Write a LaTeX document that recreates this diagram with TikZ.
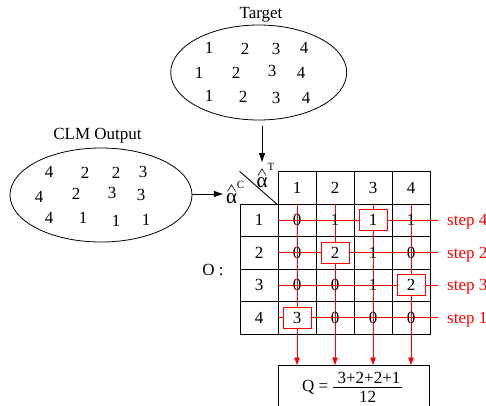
\documentclass[tikz,border=0pt]{standalone}
\usepackage{fontspec}
\setmainfont{Liberation Serif}
\usetikzlibrary{arrows.meta,shapes.geometric}
\begin{document}
\begin{tikzpicture}[x=1pt,y=-1pt,
  font=\fontsize{17}{20}\selectfont,
  txt/.style={inner sep=0pt},
  greek/.style={inner sep=0pt,font=\fontsize{21}{21}\selectfont},
  small/.style={inner sep=0pt,font=\fontsize{11}{13}\selectfont},
  caret/.style={line width=0.6pt,line join=miter},
  oval/.style={draw,ellipse,line width=0.8pt,inner sep=0pt},
  cell/.style={draw,line width=0.9pt,minimum width=38pt,minimum height=32.5pt,inner sep=0pt},
  pick/.style={draw=red,fill=white,line width=0.8pt,minimum width=28pt,minimum height=21pt,inner sep=0pt},
  redline/.style={red,line width=0.8pt},
  redarr/.style={redline,-{Triangle[length=7.5pt,width=5.5pt]}},
  blkarr/.style={line width=0.8pt,-{Triangle[length=9pt,width=6pt]}},
  steplbl/.style={text=red,inner xsep=9pt,inner ysep=0pt,anchor=base west}]
\useasboundingbox (0,0) rectangle (486,405);
\clip (0,0) rectangle (486,405);

% target set
\node[txt,anchor=base] (tgtlbl) at (261,18) {Target};
\node[oval,minimum width=176pt,minimum height=95pt] (T) at (258.7,72.5) {};
\foreach \x/\y/\v in {209/48/1,245/49/2,276/49/3,304/48/4,
                      199/73/1,236/73/2,272/71/3,301/73/4,
                      209/96/1,243/97/2,276/98/3,306/98/4}
  \node[txt] at (\x,\y) {\v};

% classifier output
\node[txt,anchor=base] (clmlbl) at (97.5,139.5) {CLM Output};
\node[oval,minimum width=182pt,minimum height=94pt] (C) at (101,195) {};
\foreach \x/\y/\v in {49/172/4,85/173/2,116/173/2,143/172/3,
                      39/197/4,76/194/2,112/193/3,141/195/3,
                      49/218/4,83/218/1,116/221/1,146/220/1}
  \node[txt] at (\x,\y) {\v};

% axis labels of the matrix: alpha with a hat and a superscript
\node[greek,anchor=base] (aC) at (231.5,203) {α};
\draw[caret] ([shift={(-4,-1.5)}]aC.north) -- ([shift={(0,-8)}]aC.north) -- ([shift={(4,-1.5)}]aC.north);
\node[small] (aCsup) at (240.5,184.5) {C};
\node[greek,anchor=base] (aT) at (262,187) {α};
\draw[caret] ([shift={(-4,-1.5)}]aT.north) -- ([shift={(0,-8)}]aT.north) -- ([shift={(4,-1.5)}]aT.north);
\node[small] (aTsup) at (271,166.5) {T};
\coordinate (tgtin) at (262,162);

\draw[blkarr] ([yshift=-6pt]T.south -| tgtin) -- (tgtin);
\draw[blkarr] (C.east |- 0,194) -- ([xshift=-3pt]aC.west |- 0,194);

% overlap matrix O
\foreach \j in {1,...,4}
  \node[cell] (h\j) at ({259+38*\j},188) {\j};
\foreach \i in {1,...,4}
  \node[cell] (r\i) at (259,{187.75+32.5*\i}) {\i};
\foreach \i in {1,...,4}
  \foreach \j in {1,...,4}
    \node[cell] (m\i\j) at ({259+38*\j},{187.75+32.5*\i}) {};
\draw[line width=0.9pt] (r1.north west |- h1.north west) -- (h1.south west);
\node[txt] (olbl) at (213,270) {O :};

% score box
\node[draw,line width=0.9pt,anchor=north west,minimum width=151pt,minimum height=50pt] (Q) at (278,365) {};
\node[txt,anchor=base west] (qeq) at (302,391) {Q =};
\node[txt] (num) at (369,378) {3+2+2+1};
\node[txt] (den) at (367.5,396.5) {12};
\draw[line width=0.7pt] ([xshift=-4pt,yshift=-3.5pt]num.south west) -- ([xshift=1pt,yshift=-3.5pt]num.south east);

% greedy steps: one line per row, one arrow per column
\foreach \i/\s in {1/4,2/2,3/3,4/1}
  \node[steplbl] (s\i) at (438,{193.25+32.5*\i}) {step \s};
\foreach \i in {1,...,4}
  \draw[redline] (m\i1.west) -- (m\i1.west -| s\i.west);
\foreach \j in {1,...,4}
  \draw[redarr] (m1\j.north) -- (m1\j.north |- Q.north);

% matrix entries
\foreach \i/\j/\v in {1/1/0,1/2/1,1/4/1,
                      2/1/0,2/3/1,2/4/0,
                      3/1/0,3/2/0,3/3/1,
                      4/2/0,4/3/0,4/4/0}
  \node[txt] at (m\i\j) {\v};
\foreach \i/\j/\v in {1/3/1,2/2/2,3/4/2,4/1/3}
  \node[pick] (p\i) at (m\i\j) {\v};
\end{tikzpicture}
\end{document}
